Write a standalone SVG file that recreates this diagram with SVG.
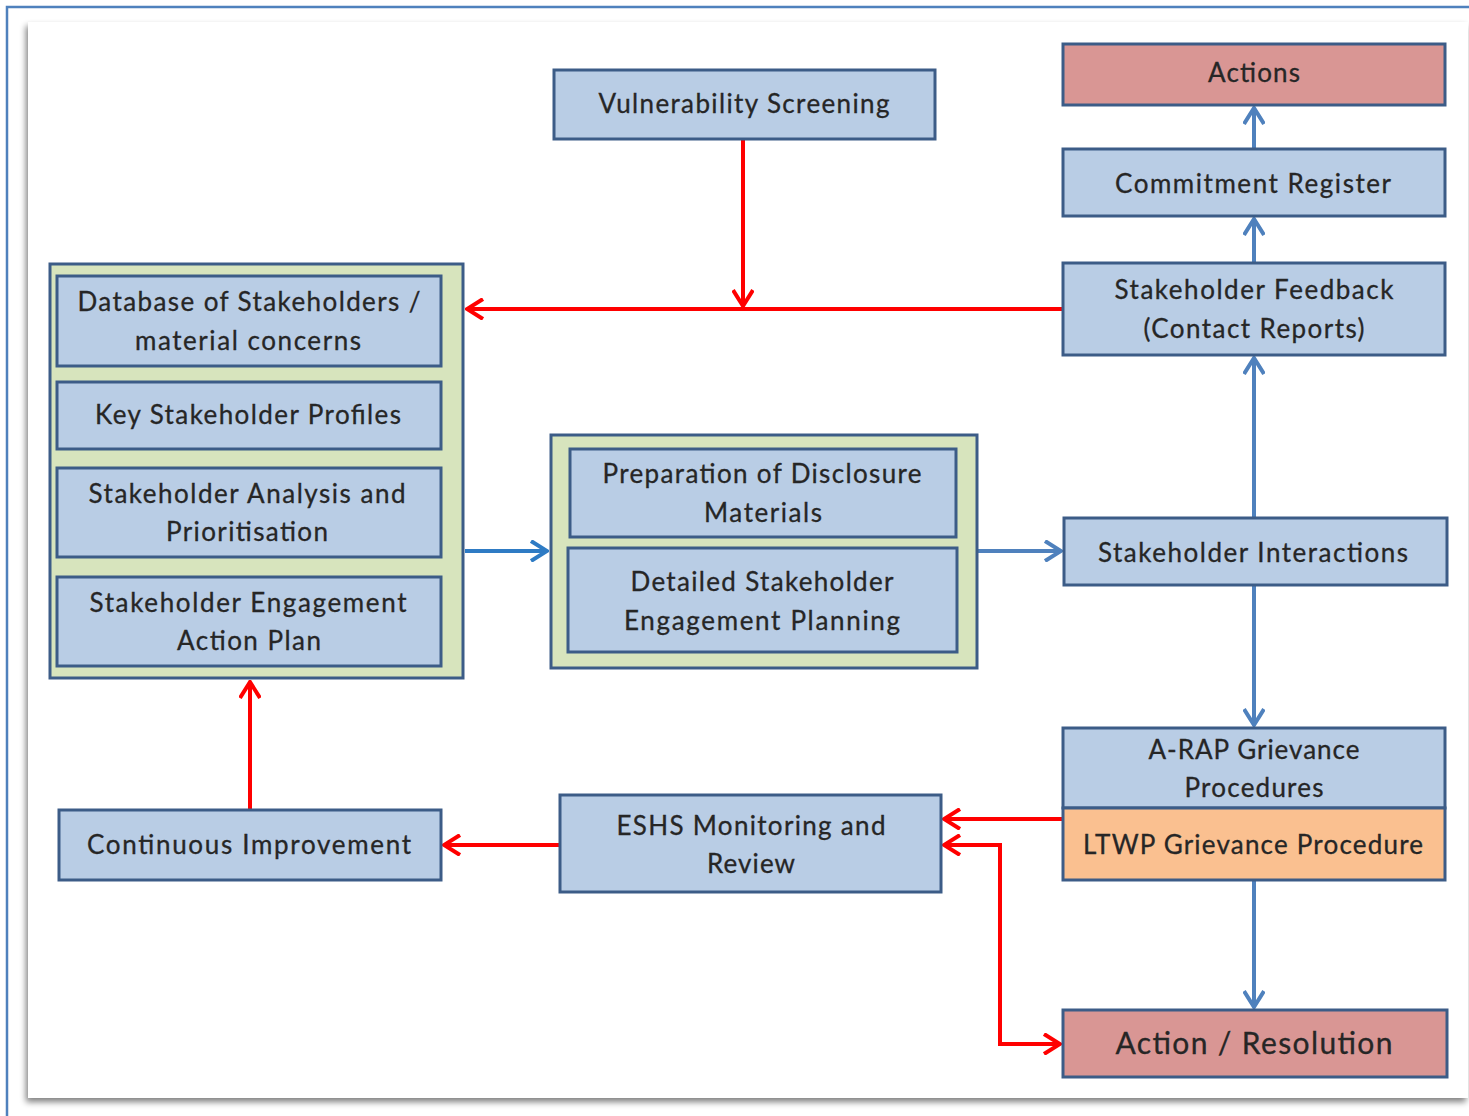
<svg xmlns="http://www.w3.org/2000/svg" width="1469" height="1116" viewBox="0 0 1469 1116">
<style>
.box{fill:#b9cde5;stroke:#3c5c87;stroke-width:3}
.pink{fill:#d99694;stroke:#3c5c87;stroke-width:3}
.orange{fill:#fac090;stroke:#3c5c87;stroke-width:3}
.green{fill:#d7e4bd;stroke:#3c5c87;stroke-width:3}
text{font-family:Lato,"Open Sans","Liberation Sans",sans-serif;font-size:26px;fill:#262626;text-anchor:middle;stroke:#262626;stroke-width:0.3}
.big{font-size:30px}
.red{fill:none;stroke:#ff0000;stroke-width:4}
.blue{fill:none;stroke:#4f81bd;stroke-width:4}
.blue2{fill:none;stroke:#2e7bc4;stroke-width:4}
</style>
<defs>
<marker id="ar" viewBox="0 0 22 22" refX="20" refY="11" markerWidth="22" markerHeight="22" markerUnits="userSpaceOnUse" orient="auto-start-reverse">
<path d="M4,1 L20,11 L4,21" fill="none" stroke="#ff0000" stroke-width="4"/>
</marker>
<marker id="ab" viewBox="0 0 22 22" refX="20" refY="11" markerWidth="22" markerHeight="22" markerUnits="userSpaceOnUse" orient="auto">
<path d="M4,1 L20,11 L4,21" fill="none" stroke="#4f81bd" stroke-width="4"/>
</marker>
<marker id="ab2" viewBox="0 0 22 22" refX="20" refY="11" markerWidth="22" markerHeight="22" markerUnits="userSpaceOnUse" orient="auto">
<path d="M4,1 L20,11 L4,21" fill="none" stroke="#2e7bc4" stroke-width="4"/>
</marker>
<filter id="sh" x="-5%" y="-5%" width="110%" height="110%">
<feGaussianBlur in="SourceAlpha" stdDeviation="3"/>
<feOffset dx="-2" dy="4" result="b"/>
<feComponentTransfer><feFuncA type="linear" slope="0.5"/></feComponentTransfer>
<feMerge><feMergeNode/><feMergeNode in="SourceGraphic"/></feMerge>
</filter>
</defs>
<rect x="0" y="0" width="1469" height="1116" fill="#ffffff"/>
<path d="M7,1116 L7,7 L1469,7" fill="none" stroke="#4f81bd" stroke-width="2.5"/>
<rect x="28" y="22" width="1440" height="1076" fill="#ffffff" filter="url(#sh)"/>

<g id="connectors">
<path class="red" d="M743,139 L743,306" marker-end="url(#ar)"/>
<path class="red" d="M1063,309 L467,309" marker-end="url(#ar)"/>
<path class="red" d="M250,809 L250,682" marker-end="url(#ar)"/>
<path class="red" d="M560,845 L444,845" marker-end="url(#ar)"/>
<path class="red" d="M1063,819 L944,819" marker-end="url(#ar)"/>
<path class="red" d="M944,845 L1000,845 L1000,1044 L1060,1044" marker-start="url(#ar)" marker-end="url(#ar)"/>
<path class="blue2" d="M465,551 L547,551" marker-end="url(#ab2)"/>
<path class="blue" d="M978,551 L1061,551" marker-end="url(#ab)"/>
<path class="blue" d="M1254,517 L1254,358" marker-end="url(#ab)"/>
<path class="blue" d="M1254,262 L1254,219" marker-end="url(#ab)"/>
<path class="blue" d="M1254,148 L1254,108" marker-end="url(#ab)"/>
<path class="blue" d="M1254,586 L1254,725" marker-end="url(#ab)"/>
<path class="blue" d="M1254,881 L1254,1007" marker-end="url(#ab)"/>
</g>

<g id="actions">
<rect class="pink" x="1063" y="44" width="382" height="61"/>
<text x="1254" y="82" textLength="92">Actions</text>
</g>
<g id="vulnerability-screening">
<rect class="box" x="554" y="70" width="381" height="69"/>
<text x="744" y="113" textLength="291">Vulnerability Screening</text>
</g>
<g id="commitment-register">
<rect class="box" x="1063" y="149" width="382" height="67"/>
<text x="1253" y="193" textLength="276">Commitment Register</text>
</g>
<g id="stakeholder-feedback">
<rect class="box" x="1063" y="263" width="382" height="92"/>
<text x="1254" y="299" textLength="279">Stakeholder Feedback</text>
<text x="1254" y="338" textLength="221">(Contact Reports)</text>
</g>

<g id="left-group">
<rect class="green" x="50" y="264" width="413" height="414"/>
<g id="database">
<rect class="box" x="57" y="276" width="384" height="90"/>
<text x="249" y="311" textLength="343">Database of Stakeholders /</text>
<text x="248" y="350" textLength="226">material concerns</text>
</g>
<g id="key-profiles">
<rect class="box" x="57" y="382" width="384" height="67"/>
<text x="248" y="424" textLength="306">Key Stakeholder Profiles</text>
</g>
<g id="analysis">
<rect class="box" x="57" y="468" width="384" height="89"/>
<text x="247" y="503" textLength="317">Stakeholder Analysis and</text>
<text x="247" y="541" textLength="162">Prioritisation</text>
</g>
<g id="engagement-action-plan">
<rect class="box" x="57" y="577" width="384" height="89"/>
<text x="248" y="612" textLength="317">Stakeholder Engagement</text>
<text x="249" y="650" textLength="144">Action Plan</text>
</g>
</g>

<g id="middle-group">
<rect class="green" x="551" y="435" width="426" height="233"/>
<g id="disclosure">
<rect class="box" x="570" y="449" width="386" height="88"/>
<text x="762" y="483" textLength="319">Preparation of Disclosure</text>
<text x="763" y="522" textLength="118">Materials</text>
</g>
<g id="detailed-planning">
<rect class="box" x="568" y="548" width="389" height="104"/>
<text x="762" y="591" textLength="263">Detailed Stakeholder</text>
<text x="762" y="630" textLength="276">Engagement Planning</text>
</g>
</g>

<g id="stakeholder-interactions">
<rect class="box" x="1064" y="518" width="383" height="67"/>
<text x="1253" y="562" textLength="310">Stakeholder Interactions</text>
</g>
<g id="grievance">
<rect class="box" x="1063" y="728" width="382" height="80"/>
<text x="1254" y="759" textLength="211">A-RAP Grievance</text>
<text x="1254" y="797" textLength="139">Procedures</text>
<rect class="orange" x="1063" y="808" width="382" height="72"/>
<text x="1253" y="854" textLength="340">LTWP Grievance Procedure</text>
</g>
<g id="eshs-monitoring">
<rect class="box" x="560" y="795" width="381" height="97"/>
<text x="751" y="835" textLength="269">ESHS Monitoring and</text>
<text x="751" y="873" textLength="88">Review</text>
</g>
<g id="continuous-improvement">
<rect class="box" x="59" y="810" width="382" height="70"/>
<text x="249" y="854" textLength="324">Continuous Improvement</text>
</g>
<g id="action-resolution">
<rect class="pink" x="1063" y="1010" width="384" height="67"/>
<text class="big" x="1254" y="1054" textLength="277">Action / Resolution</text>
</g>
</svg>
